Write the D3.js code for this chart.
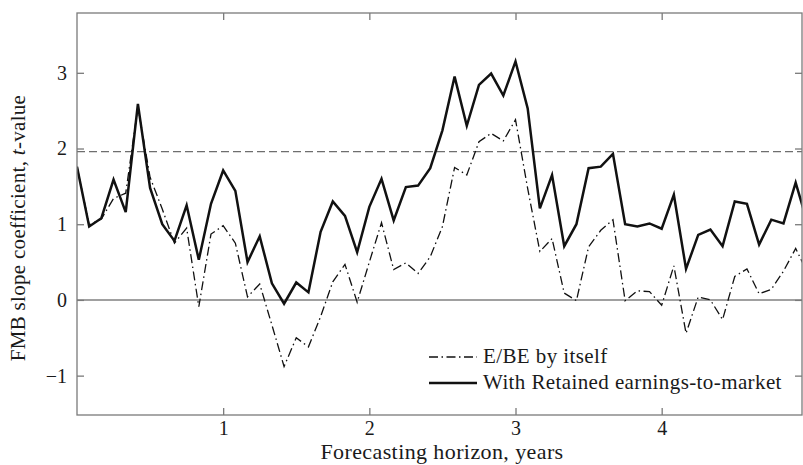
<!DOCTYPE html>
<html>
<head>
<meta charset="utf-8">
<script src="https://cdn.jsdelivr.net/npm/d3@7"></script>
<style>
  body { margin: 0; background: #fff; }
  svg { display: block; }
  text { font-family: "Liberation Serif", "DejaVu Serif", serif; fill: #1a1a1a; }
</style>
</head>
<body>
<div id="chart"></div>
<script>
// forecasting horizon in months (plotted as years)
const months = d3.range(0, 61);

// E/BE by itself
const ebeAlone = [1.76, 0.99, 1.07, 1.34, 1.41, 2.55, 1.62, 1.20, 0.75, 0.95,
  -0.09, 0.87, 0.98, 0.75, 0.04, 0.21, -0.33, -0.88, -0.50, -0.62,
  -0.22, 0.24, 0.47, -0.03, 0.50, 1.02, 0.40, 0.49, 0.35, 0.57,
  0.97, 1.75, 1.65, 2.09, 2.20, 2.10, 2.38, 1.47, 0.64, 0.81,
  0.09, -0.01, 0.70, 0.92, 1.06, -0.01, 0.12, 0.11, -0.07, 0.45,
  -0.44, 0.04, 0.00, -0.26, 0.31, 0.41, 0.08, 0.14, 0.38, 0.68, 0.35];

// E/BE with retained earnings-to-market
const withRE = [1.76, 0.97, 1.08, 1.59, 1.16, 2.59, 1.48, 1.00, 0.78, 1.25,
  0.53, 1.27, 1.71, 1.44, 0.50, 0.84, 0.22, -0.05, 0.23, 0.10,
  0.90, 1.30, 1.11, 0.63, 1.23, 1.60, 1.05, 1.49, 1.51, 1.74,
  2.24, 2.95, 2.30, 2.84, 2.99, 2.70, 3.15, 2.53, 1.21, 1.65,
  0.71, 1.00, 1.74, 1.76, 1.93, 1.00, 0.97, 1.01, 0.94, 1.39,
  0.41, 0.86, 0.93, 0.71, 1.30, 1.27, 0.73, 1.06, 1.01, 1.55, 1.00];

const xTicks = [1, 2, 3, 4];
const yTicks = [-1, 0, 1, 2, 3];
const critical = 1.96;

const width = 803, height = 465;
const mLeft = 77, mRight = 802, mTop = 13, mBottom = 415;

const x = d3.scaleLinear().domain([0, 4.96]).range([mLeft, mRight]);
const y = d3.scaleLinear().domain([-1.52, 3.79]).range([mBottom, mTop]);

const svg = d3.select("#chart").append("svg")
  .attr("width", width)
  .attr("height", height);

svg.append("clipPath").attr("id", "plot-clip")
  .append("rect")
  .attr("x", mLeft).attr("y", mTop)
  .attr("width", mRight - mLeft).attr("height", mBottom - mTop);

const axisColor = "#7a7a7a";
const tickLen = 7;
const dashDot = "9,3.5,1.5,3.5";

// reference lines
svg.append("line")
  .attr("x1", mLeft).attr("x2", mRight)
  .attr("y1", y(0)).attr("y2", y(0))
  .attr("stroke", "#808080").attr("stroke-width", 1.6);

svg.append("line")
  .attr("x1", mLeft).attr("x2", mRight)
  .attr("y1", y(critical)).attr("y2", y(critical))
  .attr("stroke", "#6e6e6e").attr("stroke-width", 1.3)
  .attr("stroke-dasharray", "8,4");

// series
const line = (vals) => d3.line()
  .x((d, i) => x(months[i] / 12))
  .y((d) => y(d))(vals);

const plot = svg.append("g").attr("clip-path", "url(#plot-clip)");

plot.append("path")
  .attr("d", line(ebeAlone))
  .attr("fill", "none")
  .attr("stroke", "#111")
  .attr("stroke-width", 1.3)
  .attr("stroke-dasharray", dashDot);

plot.append("path")
  .attr("d", line(withRE))
  .attr("fill", "none")
  .attr("stroke", "#111")
  .attr("stroke-width", 2.5)
  .attr("stroke-linejoin", "miter");

// frame
svg.append("rect")
  .attr("x", mLeft).attr("y", mTop)
  .attr("width", mRight - mLeft).attr("height", mBottom - mTop)
  .attr("fill", "none")
  .attr("stroke", axisColor).attr("stroke-width", 1.3);

// ticks pointing inward, on all four sides
const xAxisB = d3.axisBottom(x).tickValues(xTicks).tickSize(-tickLen).tickPadding(6).tickFormat(d3.format("d"));
const xAxisT = d3.axisTop(x).tickValues(xTicks).tickSize(-tickLen).tickFormat("");
const yAxisL = d3.axisLeft(y).tickValues(yTicks).tickSize(-tickLen).tickPadding(10)
  .tickFormat((d) => d < 0 ? "\u2212" + Math.abs(d) : d);
const yAxisR = d3.axisRight(y).tickValues(yTicks).tickSize(-tickLen).tickFormat("");

function styleAxis(g) {
  g.select(".domain").remove();
  g.selectAll(".tick line").attr("stroke", axisColor).attr("stroke-width", 1.3);
  g.selectAll(".tick text").attr("font-size", 20).attr("fill", "#1a1a1a")
    .style("font-family", '"Liberation Serif", "DejaVu Serif", serif');
}

svg.append("g").attr("transform", `translate(0,${mBottom})`).call(xAxisB).call(styleAxis);
svg.append("g").attr("transform", `translate(0,${mTop})`).call(xAxisT).call(styleAxis);
svg.append("g").attr("transform", `translate(${mLeft},0)`).call(yAxisL).call(styleAxis);
svg.append("g").attr("transform", `translate(${mRight},0)`).call(yAxisR).call(styleAxis);

// axis titles
svg.append("text")
  .attr("x", 442)
  .attr("y", 459)
  .attr("text-anchor", "middle")
  .attr("font-size", 22)
  .attr("letter-spacing", 0.4)
  .text("Forecasting horizon, years");

const yTitle = svg.append("text")
  .attr("transform", `translate(25,${(mTop + mBottom) / 2 + 14}) rotate(-90)`)
  .attr("text-anchor", "middle")
  .attr("font-size", 21)
  .attr("letter-spacing", 0.3);
yTitle.append("tspan").text("FMB slope coefficient, ");
yTitle.append("tspan").attr("font-style", "italic").text("t");
yTitle.append("tspan").text("-value");

// legend
const legendItems = [
  { label: "E/BE by itself", dash: dashDot, w: 1.3, y: 357 },
  { label: "With Retained earnings-to-market", dash: null, w: 2.5, y: 383 }
];

const legend = svg.selectAll(".legend").data(legendItems).enter()
  .append("g").attr("class", "legend");

legend.append("line")
  .attr("x1", 429).attr("x2", 477)
  .attr("y1", (d) => d.y).attr("y2", (d) => d.y)
  .attr("stroke", "#111")
  .attr("stroke-width", (d) => d.w)
  .attr("stroke-dasharray", (d) => d.dash);

legend.append("text")
  .attr("x", 483)
  .attr("y", (d) => d.y + 6)
  .attr("font-size", 21)
  .attr("letter-spacing", 0.4)
  .text((d) => d.label);
</script>
</body>
</html>
